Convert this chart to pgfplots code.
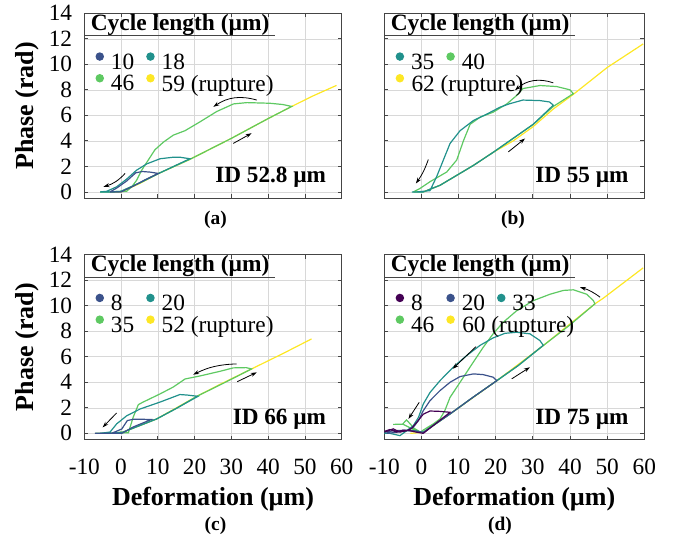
\documentclass[border=0pt]{standalone}
\usepackage{fontspec}
\setmainfont{LiberationSerif}[Extension=.ttf, UprightFont=*-Regular, BoldFont=*-Bold, ItalicFont=*-Italic, BoldItalicFont=*-BoldItalic]
\usepackage{pgfplots}
\pgfplotsset{compat=1.18}
\usetikzlibrary{arrows.meta}
\definecolor{vpurple}{HTML}{440154}
\definecolor{vblue}{HTML}{3B528B}
\definecolor{vteal}{HTML}{21918C}
\definecolor{vgreen}{HTML}{5EC962}
\definecolor{vyellow}{HTML}{FDE725}
\definecolor{gridc}{HTML}{D8D8D8}
\definecolor{axc}{HTML}{454545}
\tikzset{
  idtext/.style={anchor=base east, font=\bfseries\fontsize{23.2}{26}\selectfont},
  arr/.style={-{Stealth[length=6pt,width=4pt]}, line width=0.8pt, black},
}
\pgfplotsset{
  panel/.style={
    scale only axis, height=185pt, xmin=-10, xmax=60, ymin=-0.5, ymax=14,
    xtick={-10,0,...,60}, ytick={0,2,...,14},
    grid=major, grid style={gridc, line width=0.6pt},
    axis line style={axc, line width=0.9pt},
    tick style={axc, line width=0.8pt}, tick align=inside, tick pos=both, major tick length=4pt,
    tick label style={font=\fontsize{23.3}{26}\selectfont, inner sep=0pt},
    yticklabel style={xshift=-12pt}, xticklabel style={yshift=-19pt},
    /pgf/number format/assume math mode=true,
    every axis plot/.append style={line width=1.2pt},
    legend columns=2, reverse legend,
    legend image code/.code={\fill (0pt,5.5pt) circle (3.6pt);},
    legend cell align=left,
    legend style={draw=none, fill=none, inner sep=0pt, anchor=north west, at={(0.043,0.79)},
      font=\fontsize{23.3}{26}\selectfont, row sep=3.5pt,
      nodes={inner sep=0pt},
      /tikz/every odd column/.append style={column sep=7pt},
      /tikz/every even column/.append style={column sep=12pt}},
    x label style={at={(axis description cs:0.5,-0.353)}, anchor=base, font=\bfseries\fontsize{26}{30}\selectfont},
    y label style={at={(axis description cs:-0.2227,0.5)}, anchor=center, font=\bfseries\fontsize{26}{30}\selectfont},
  },
}
\begin{document}
\begin{tikzpicture}
\path (0pt,0pt) rectangle (679pt,-542pt);
% ---------------- (a)
\begin{axis}[panel, width=257.4pt, at={(84.3pt,-13.3pt)}, anchor=north west,
  xticklabels={}, ylabel={Phase (rad)}]
\addplot[vyellow] coordinates {(-3,0) (0,0) (5,0.65) (10,1.42) (18.7,2.55) (30,4.2) (40,5.75) (46.4,6.7) (52,7.5) (58.6,8.35)};
\addlegendentry{59 (rupture)}
\addplot[vgreen] coordinates {(-5.7,0) (-3,0) (0,0.05) (5,0.7) (10,1.42) (18.7,2.55) (30,4.2) (40,5.75) (46.4,6.7)
 (44,6.85) (40.5,6.95) (34.2,7.0) (30.6,6.9) (26,6.3) (21.5,5.5) (17.4,4.8) (14.2,4.45) (11.5,3.9) (9.2,3.3) (7.4,2.5) (5.6,1.7) (4.2,0.9) (2.9,0.4) (1.5,0.05) (-2,0) (-5.7,0)};
\addlegendentry{46}
\addplot[vteal] coordinates {(-5.7,0) (-3,0) (0,0.05) (5,0.7) (10,1.42) (18.7,2.6)
 (16,2.72) (14.2,2.72) (10.6,2.6) (7,2.2) (4.2,1.7) (1.5,1.0) (-1.2,0.4) (-3.9,0.05) (-5.7,0)};
\addlegendentry{18}
\addplot[vblue] coordinates {(-3,0) (0,0) (3.3,0.45) (6.5,0.95) (10.1,1.45)
 (8,1.55) (5.8,1.6) (4,1.5) (1.5,0.85) (-1.2,0.3) (-3,0)};
\addlegendentry{10}
\node[idtext] at (rel axis cs:0.953,0.083) {ID 52.8 µm};
\draw[arr] (axis cs:36.9,7.2) to[bend right=25] (axis cs:25.1,6.67);
\draw[arr] (axis cs:30.5,3.8) -- (axis cs:35.5,4.6);
\draw[arr] (axis cs:1.1,1.45) to[bend left=15] (axis cs:-4.8,0.4);
\end{axis}
% ---------------- (b)
\begin{axis}[panel, width=260pt, at={(384.3pt,-13.3pt)}, anchor=north west,
  xticklabels={}, yticklabels={}]
\addplot[vyellow] coordinates {(0.5,0) (5,0.52) (9.5,1.3) (14,2.08) (19.3,3.1) (24.7,4.0) (30,5.1) (35.5,6.5) (40.9,7.65) (50,9.75) (59.7,11.6)};
\addlegendentry{\rlap{62 (rupture)}}
\addplot[vgreen] coordinates {(-2.2,0) (0.5,0) (5,0.52) (9.5,1.3) (14,2.08) (19.3,3.1) (24.7,4.2) (30.1,5.3) (35.5,6.7) (40.9,7.7)
 (40,8.0) (36.4,8.26) (31.9,8.34) (27.3,8.1) (25.6,7.55) (23,6.9) (19.3,6.25) (15.8,5.86) (13.1,5.3) (11.3,4.0) (9.5,2.5) (6.8,1.56) (2.3,0.8) (-0.4,0.27) (-2.2,0)};
\addlegendentry{40}
\addplot[vteal] coordinates {(-2.6,0) (0.5,0) (5,0.52) (9.5,1.3) (14,2.08) (19.3,3.1) (24.7,4.2) (30.1,5.3) (35.5,6.8)
 (34.5,7.05) (31.9,7.16) (27.3,7.2) (23.6,6.9) (21.15,6.64) (17.6,6.1) (14.0,5.6) (10.4,4.8) (7.7,3.8) (5.9,2.5) (4.1,1.2) (2.3,0.1) (-1.3,0) (-2.6,0)};
\addlegendentry{35}
\node[idtext] at (rel axis cs:0.953,0.083) {ID 55 µm};
\draw[arr] (axis cs:35.5,8.55) to[bend right=30] (axis cs:25.2,7.97);
\draw[arr] (axis cs:23.4,3.14) -- (axis cs:27.9,4.19);
\draw[arr] (axis cs:1.85,2.54) to[bend left=8] (axis cs:-1.5,0.66);
\end{axis}
% ---------------- (c)
\begin{axis}[panel, width=257.4pt, at={(84.3pt,-254.7pt)}, anchor=north west,
  ylabel={Phase (rad)}, xlabel={Deformation (µm)}]
\addplot[vyellow] coordinates {(-3,0) (0.6,0.1) (9.7,1.13) (20.6,2.9) (27,3.85) (35.5,5.05) (44,6.25) (51.8,7.4)};
\addlegendentry{52 (rupture)}
\addplot[vgreen] coordinates {(-7,0) (-3,0) (0.6,0.1) (5,0.6) (9.7,1.13) (15,1.95) (20.6,2.9) (28,3.95) (35.5,5.05)
 (34,5.15) (30.5,5.13) (26.9,4.86) (21.5,4.5) (17.4,4.26) (14.2,3.63) (10.6,3.09) (6.0,2.45) (4.7,2.25) (3.3,1.27) (2.0,0.05) (-2,0) (-7,0)};
\addlegendentry{35}
\addplot[vteal] coordinates {(-5.7,0) (-3,0) (0.6,0.1) (5,0.6) (9.7,1.13) (15,1.95) (20.9,2.9)
 (18,3.0) (16,3.04) (10.6,2.45) (5.2,1.91) (1.5,1.37) (-1.2,0.74) (-3,0.1) (-5.7,0)};
\addlegendentry{20}
\addplot[vblue] coordinates {(-7.1,0) (-3,0) (0.2,0) (3.3,0.5) (8.2,1.08)
 (6,1.1) (3.3,1.1) (1.7,1.0) (0.2,0.34) (-2.6,0) (-7.1,0)};
\addlegendentry{8}
\node[idtext] at (rel axis cs:0.953,0.083) {ID 66 µm};
\draw[arr] (axis cs:31.4,5.44) to[bend right=12] (axis cs:19.6,4.6);
\draw[arr] (axis cs:31.6,4.05) -- (axis cs:36.9,4.78);
\draw[arr] (axis cs:-1.2,1.6) -- (axis cs:-5,0.47);
\end{axis}
% ---------------- (d)
\begin{axis}[panel, width=260pt, at={(384.3pt,-254.7pt)}, anchor=north west,
  yticklabels={}, xlabel={Deformation (µm)}, legend columns=3]
\addplot[vyellow] coordinates {(-3,0) (0.5,0.08) (7.7,1.52) (20.3,4.13) (32.8,6.88) (46.7,10.15) (49,10.6) (59.7,12.97)};
\addlegendentry{\rlap{60 (rupture)}}
\addplot[vgreen] coordinates {(-7.6,0.7) (-5,0.72) (-3.5,0.5) (-1.5,0.2) (0.5,0.08) (7.7,1.52) (14,2.85) (20.3,4.13) (26,5.3) (32.8,6.88) (40,8.5) (46.7,10.15)
 (46.3,10.4) (44.5,10.9) (40.9,11.25) (38.2,11.2) (34.6,10.9) (30.1,10.4) (25.6,9.6) (22,8.7) (19.3,7.8) (16.65,6.75) (13.1,5.2) (10.4,4.0) (7.7,2.82) (6.3,1.78) (5,1.13) (3.2,0.74) (1,0.35) (-0.3,0.1) (-2,0.4) (-4,1.05) (-5,0.75)};
\addlegendentry{46}
\addplot[vteal] coordinates {(-10,0) (-8.5,0) (-5.8,-0.18) (-4,0.2) (-2,0.2) (0.5,0.08) (7.7,1.52) (14,2.85) (20.3,4.13) (26,5.3) (32.8,6.9)
 (31.9,7.27) (29.2,7.8) (25.6,7.92) (22.5,7.84) (19.3,7.48) (15.8,6.9) (12.2,6.1) (8.6,5.2) (5,4.13) (2.3,3.2) (0.5,2.3) (-0.8,1.25) (-2.2,0.6) (-4,0.2) (-5.8,-0.18) (-8.5,0) (-10,0.05)};
\addlegendentry{33}
\addplot[vblue] coordinates {(-9.4,0.1) (-7.6,0.2) (-4,0.25) (-2,0.2) (0.5,0.08) (7.7,1.52) (14,2.85) (20.3,4.13)
 (19.3,4.4) (16.65,4.6) (14,4.66) (10.4,4.45) (7.7,4.0) (5,3.35) (2.3,2.56) (0.5,1.78) (-0.8,1.0) (-2.2,0.47) (-4,0.2) (-7.6,0.05) (-9.4,0)};
\addlegendentry{20}
\addplot[vpurple] coordinates {(-10,0.15) (-8.5,0.3) (-6.7,0.1) (-4.9,0.25) (-3.1,0.2) (-1.5,0.1) (0.5,0) (4,0.8) (7.7,1.65)
 (5,1.72) (2.3,1.75) (0.5,1.5) (-1.3,0.86) (-2.6,0.4) (-4,0.2) (-5.8,0.1) (-7.6,0.35) (-9.4,0.15) (-10,0.1)};
\addlegendentry{8}
\node[idtext] at (rel axis cs:0.953,0.083) {ID 75 µm};
\draw[arr] (axis cs:48.1,10.67) to[bend right=10] (axis cs:42.7,11.45);
\draw[arr] (axis cs:24.3,4.27) -- (axis cs:29.2,5.18);
\draw[arr] (axis cs:14.7,6.8) -- (axis cs:8.4,5.05);
\draw[arr] (axis cs:-0.6,2.43) -- (axis cs:-3.5,1.13);
\end{axis}
% ---------------- legend titles, underlines, subcaptions
\foreach \lx/\ty in {84.3/-13.3, 384.3/-13.3, 84.3/-254.7, 384.3/-254.7}{
  \node[anchor=base west, inner sep=0pt, font=\bfseries\fontsize{23.4}{26}\selectfont] at (\lx pt+6.3pt, \ty pt-17pt) {Cycle length (µm)};
  \draw[axc, line width=0.9pt] (\lx pt, \ty pt-22.5pt) -- (\lx pt+191pt, \ty pt-22.5pt);
}
\node[font=\bfseries\fontsize{19.4}{22}\selectfont] at (215.5pt,-220pt) {(a)};
\node[font=\bfseries\fontsize{19.4}{22}\selectfont] at (513pt,-220pt) {(b)};
\node[font=\bfseries\fontsize{19.4}{22}\selectfont] at (215.5pt,-526pt) {(c)};
\node[font=\bfseries\fontsize{19.4}{22}\selectfont] at (500pt,-526pt) {(d)};
\end{tikzpicture}
\end{document}
